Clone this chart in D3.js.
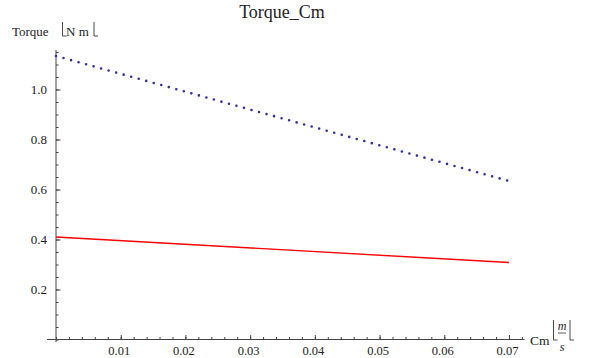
<!DOCTYPE html>
<html>
<head>
<meta charset="utf-8">
<script src="https://cdn.jsdelivr.net/npm/d3@7"></script>
<style>
  body { margin: 0; background: #fff; }
  svg text { font-family: "Liberation Serif", "DejaVu Serif", serif; fill: #222; }
  .axis path { display: none; }
  .axis line { stroke: #444; }
</style>
</head>
<body>
<div id="chart"></div>
<script>
"use strict";

var width = 590;
var height = 358;
var serif = "'Liberation Serif', 'DejaVu Serif', serif";

// data
var cm = [0, 0.07];
var torqueBlue = [1.134, 0.634];
var torqueRed = [0.41, 0.308];
var xTicks = [0.01, 0.02, 0.03, 0.04, 0.05, 0.06, 0.07];
var yTicks = [0.2, 0.4, 0.6, 0.8, 1.0];

var xScale = d3.scaleLinear().domain([0, 0.07]).range([56, 509]);
var yScale = d3.scaleLinear().domain([0, 1]).range([339.5, 89.5]);

var svg = d3.select("#chart")
  .append("svg")
  .attr("width", width)
  .attr("height", height)
  .attr("font-family", serif);

// axis lines
svg.append("line")
  .attr("x1", xScale(-0.0014)).attr("x2", xScale(0.0724))
  .attr("y1", yScale(0)).attr("y2", yScale(0))
  .attr("stroke", "#444");

svg.append("line")
  .attr("x1", xScale(0)).attr("x2", xScale(0))
  .attr("y1", yScale(-0.01)).attr("y2", yScale(1.158))
  .attr("stroke", "#444");

// minor ticks
svg.append("g")
  .attr("class", "axis")
  .attr("transform", "translate(0," + yScale(0) + ")")
  .call(d3.axisBottom(xScale)
    .tickValues(d3.range(0, 0.0721, 0.002))
    .tickSize(-2.5)
    .tickFormat(""));

svg.append("g")
  .attr("class", "axis")
  .attr("transform", "translate(" + xScale(0) + ",0)")
  .call(d3.axisLeft(yScale)
    .tickValues(d3.range(0, 1.151, 0.05))
    .tickSize(-2.5)
    .tickFormat(""));

// major ticks
var xAxis = svg.append("g")
  .attr("class", "axis")
  .attr("transform", "translate(0," + yScale(0) + ")")
  .call(d3.axisBottom(xScale)
    .tickValues(xTicks)
    .tickSize(-4.5)
    .tickPadding(7)
    .tickFormat(d3.format(".2f")));
xAxis.attr("font-family", serif).attr("font-size", 12.5);
xAxis.selectAll("text").attr("fill", "#222").attr("dx", "-2");

var yAxis = svg.append("g")
  .attr("class", "axis")
  .attr("transform", "translate(" + xScale(0) + ",0)")
  .call(d3.axisLeft(yScale)
    .tickValues(yTicks)
    .tickSize(-4.5)
    .tickPadding(9)
    .tickFormat(d3.format(".1f")));
yAxis.attr("font-family", serif).attr("font-size", 13);
yAxis.selectAll("text").attr("fill", "#222");

var line = d3.line()
  .x(function(d) { return xScale(d[0]); })
  .y(function(d) { return yScale(d[1]); });

// red solid series
svg.append("path")
  .datum(d3.zip(cm, torqueRed))
  .attr("d", line)
  .attr("fill", "none")
  .attr("stroke", "#ff0000")
  .attr("stroke-width", 1.4);

// blue dotted series
svg.append("path")
  .datum(d3.zip(cm, torqueBlue))
  .attr("d", line)
  .attr("fill", "none")
  .attr("stroke", "#30309a")
  .attr("stroke-width", 2.6)
  .attr("stroke-linecap", "round")
  .attr("stroke-dasharray", "0 7.8");

// unit bracket, drawn like mathematica's
function bracket(x, yTop, yBot) {
  svg.append("path")
    .attr("d", "M" + x + "," + yTop + "V" + yBot + "H" + (x + 4))
    .attr("fill", "none")
    .attr("stroke", "#333")
    .attr("stroke-width", 0.9);
}

// title
svg.append("text")
  .attr("x", 282)
  .attr("y", 18)
  .attr("text-anchor", "middle")
  .style("font-size", "18px")
  .text("Torque_Cm");

// y label
svg.append("text")
  .attr("x", 12)
  .attr("y", 36)
  .style("font-size", "13px")
  .text("Torque");

bracket(62.5, 22, 36);
svg.append("text")
  .attr("x", 66)
  .attr("y", 36)
  .style("font-size", "13px")
  .text("N m");
bracket(94, 22, 36);

// x label
svg.append("text")
  .attr("x", 530)
  .attr("y", 345)
  .style("font-size", "13.5px")
  .text("Cm");

bracket(553.5, 320, 340);
svg.append("text").attr("x", 562).attr("y", 330).attr("text-anchor", "middle")
  .style("font-size", "12px").style("font-style", "italic").text("m");
svg.append("line").attr("x1", 558).attr("x2", 566).attr("y1", 333).attr("y2", 333)
  .attr("stroke", "#333").attr("stroke-width", 0.8);
svg.append("text").attr("x", 562).attr("y", 351).attr("text-anchor", "middle")
  .style("font-size", "12px").style("font-style", "italic").text("s");
bracket(570, 320, 340);
</script>
</body>
</html>
